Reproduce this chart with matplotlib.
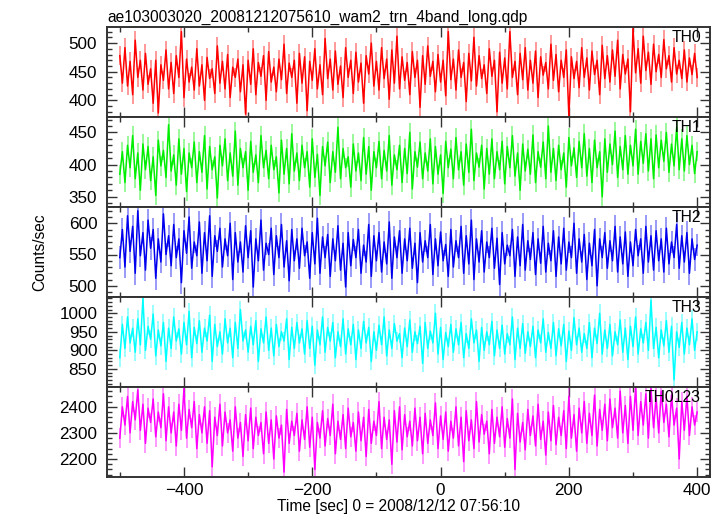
import numpy as np
import matplotlib
matplotlib.use("Agg")
import matplotlib.pyplot as plt
from matplotlib.ticker import MultipleLocator

plt.rcParams['font.family'] = ['Liberation Sans', 'DejaVu Sans']

# ---- data (4 s bins starting at -500 s) ----
t_start = -500.0
bin_sec = 4.0

th0 = [478, 430, 492, 425, 468, 410, 505, 440, 470, 418,
       482, 428, 455, 395, 470, 378, 462, 435, 488, 420,
       466, 412, 478, 440, 520, 405, 472, 432, 458, 418,
       490, 425, 462, 400, 475, 438, 455, 412, 495, 430,
       468, 420, 480, 405, 458, 440, 472, 415, 462, 376,
       470, 428, 490, 410, 466, 442, 478, 400, 485, 432,
       458, 415, 472, 436, 498, 412, 465, 440, 470, 395,
       482, 430, 476, 382, 468, 435, 490, 420, 462, 410,
       508, 438, 472, 418, 486, 428, 460, 405, 492, 440,
       470, 412, 484, 432, 465, 395, 478, 446, 500, 425,
       468, 418, 492, 438, 472, 402, 488, 430, 512, 420,
       476, 435, 466, 410, 485, 440, 470, 388, 478, 428,
       495, 442, 468, 415, 480, 432, 470, 408, 520, 436,
       472, 418, 488, 440, 466, 398, 482, 434, 510, 425,
       478, 438, 462, 412, 490, 442, 470, 380, 484, 430,
       474, 420, 520, 440, 468, 410, 482, 436, 492, 418,
       470, 430, 486, 405, 476, 444, 466, 420, 498, 435,
       480, 415, 470, 440, 488, 372, 476, 438, 468, 422,
       492, 440, 474, 418, 486, 445, 470, 410, 496, 438,
       478, 432, 488, 442, 505, 420, 480, 446, 472, 380,
       525, 448, 490, 430, 512, 452, 484, 428, 498, 450,
       480, 440, 506, 455, 478, 432, 492, 446, 470, 438,
       488, 432, 474, 445, 482, 440]

th1 = [385, 420, 372, 430, 395, 445, 378, 418, 360, 432,
       392, 428, 375, 412, 352, 438, 398, 422, 380, 462,
       390, 415, 368, 440, 385, 425, 358, 418, 395, 435,
       372, 420, 388, 445, 362, 428, 392, 412, 348, 430,
       398, 440, 375, 418, 382, 452, 368, 425, 395, 420,
       360, 436, 388, 415, 372, 445, 395, 422, 378, 430,
       392, 412, 356, 438, 385, 425, 370, 448, 390, 418,
       375, 430, 395, 420, 365, 440, 380, 416, 352, 428,
       398, 435, 372, 420, 388, 458, 378, 425, 395, 412,
       365, 432, 390, 418, 375, 442, 385, 428, 360, 420,
       395, 436, 378, 422, 390, 445, 368, 415, 392, 430,
       372, 425, 386, 450, 362, 420, 396, 435, 378, 418,
       390, 440, 370, 428, 385, 415, 355, 436, 395, 424,
       378, 442, 392, 420, 368, 432, 388, 455, 375, 418,
       396, 430, 362, 425, 385, 440, 378, 420, 392, 436,
       370, 428, 395, 445, 382, 418, 360, 432, 390, 424,
       385, 446, 372, 420, 396, 435, 378, 460, 388, 425,
       375, 430, 392, 418, 365, 442, 398, 426, 380, 436,
       395, 448, 382, 425, 372, 438, 395, 420, 350, 440,
       388, 432, 400, 452, 380, 428, 392, 445, 385, 430,
       398, 455, 385, 436, 402, 448, 390, 440, 378, 446,
       395, 438, 405, 450, 388, 432, 398, 458, 392, 440,
       390, 445, 400, 430, 386, 420]

th2 = [545, 590, 530, 612, 555, 595, 520, 620, 548, 585,
       525, 605, 560, 590, 512, 575, 538, 615, 550, 580,
       532, 598, 545, 575, 505, 588, 552, 610, 528, 570,
       548, 602, 520, 585, 540, 612, 515, 580, 555, 592,
       530, 575, 548, 600, 510, 585, 538, 570, 522, 596,
       545, 588, 498, 575, 540, 605, 525, 568, 550, 592,
       518, 580, 545, 598, 530, 572, 508, 590, 540, 575,
       528, 592, 548, 570, 512, 585, 535, 608, 520, 578,
       545, 582, 515, 575, 540, 596, 525, 568, 498, 585,
       532, 574, 545, 590, 520, 565, 538, 598, 515, 580,
       540, 585, 522, 570, 535, 602, 512, 578, 545, 588,
       520, 575, 540, 592, 528, 568, 505, 585, 538, 572,
       545, 598, 518, 575, 532, 586, 540, 566, 515, 590,
       530, 572, 545, 595, 520, 580, 535, 605, 510, 575,
       538, 588, 522, 570, 545, 592, 528, 576, 502, 585,
       535, 565, 548, 590, 515, 578, 532, 598, 525, 572,
       542, 585, 518, 575, 536, 595, 522, 568, 540, 588,
       515, 578, 535, 592, 525, 570, 545, 600, 520, 575,
       538, 582, 510, 568, 532, 590, 500, 575, 545, 585,
       528, 572, 540, 595, 522, 578, 535, 586, 515, 570,
       532, 590, 548, 575, 520, 595, 538, 580, 525, 588,
       540, 575, 522, 592, 535, 570, 545, 598, 528, 580,
       538, 585, 520, 575, 542, 565]

th3 = [880, 970, 905, 990, 920, 960, 895, 985, 915, 1040,
       900, 965, 930, 998, 885, 955, 912, 975, 870, 960,
       905, 990, 925, 958, 890, 975, 915, 1005, 880, 962,
       918, 980, 895, 960, 925, 995, 870, 970, 910, 950,
       890, 985, 920, 960, 880, 975, 905, 1010, 925, 955,
       895, 965, 915, 980, 870, 958, 920, 990, 900, 960,
       885, 970, 910, 950, 925, 985, 875, 962, 905, 975,
       920, 958, 890, 980, 905, 965, 860, 955, 915, 990,
       895, 962, 925, 975, 880, 950, 910, 985, 890, 958,
       915, 970, 875, 955, 905, 978, 920, 962, 870, 950,
       900, 968, 915, 990, 885, 955, 905, 972, 925, 945,
       880, 960, 910, 982, 895, 950, 918, 965, 865, 975,
       905, 952, 920, 1000, 890, 962, 875, 948, 910, 970,
       895, 958, 915, 975, 880, 945, 905, 985, 920, 955,
       870, 962, 900, 950, 915, 978, 885, 955, 905, 968,
       890, 945, 915, 990, 875, 960, 905, 972, 892, 950,
       910, 965, 880, 955, 920, 985, 895, 948, 905, 975,
       885, 958, 912, 970, 870, 952, 900, 988, 915, 960,
       895, 945, 905, 975, 880, 960, 918, 1000, 890, 955,
       905, 970, 885, 950, 915, 982, 895, 960, 875, 965,
       910, 990, 890, 958, 920, 975, 900, 1035, 905, 962,
       880, 955, 912, 980, 895, 965, 820, 950, 908, 975,
       890, 960, 915, 985, 900, 950]

th0123 = [2280, 2400, 2330, 2440, 2300, 2420, 2350, 2465, 2310, 2410,
          2260, 2395, 2340, 2430, 2285, 2380, 2320, 2450, 2270, 2400,
          2300, 2380, 2250, 2410, 2310, 2470, 2280, 2390, 2320, 2420,
          2240, 2370, 2300, 2400, 2260, 2385, 2170, 2360, 2290, 2410,
          2250, 2380, 2300, 2350, 2230, 2400, 2280, 2340, 2210, 2370,
          2270, 2395, 2240, 2360, 2290, 2340, 2220, 2380, 2260, 2350,
          2200, 2365, 2280, 2330, 2150, 2390, 2260, 2345, 2290, 2375,
          2230, 2350, 2275, 2400, 2245, 2360, 2160, 2340, 2280, 2385,
          2250, 2355, 2290, 2410, 2220, 2345, 2275, 2370, 2240, 2395,
          2285, 2340, 2230, 2380, 2270, 2360, 2210, 2390, 2260, 2345,
          2290, 2420, 2240, 2360, 2275, 2350, 2180, 2385, 2265, 2400,
          2235, 2370, 2285, 2345, 2250, 2395, 2270, 2360, 2220, 2375,
          2260, 2350, 2290, 2415, 2240, 2365, 2275, 2380, 2230, 2345,
          2280, 2400, 2250, 2360, 2190, 2385, 2270, 2350, 2240, 2420,
          2265, 2370, 2295, 2345, 2220, 2390, 2260, 2360, 2285, 2400,
          2245, 2355, 2280, 2430, 2160, 2375, 2265, 2340, 2235, 2390,
          2290, 2365, 2250, 2410, 2275, 2345, 2215, 2380, 2270, 2405,
          2255, 2360, 2290, 2385, 2240, 2440, 2280, 2370, 2230, 2395,
          2300, 2420, 2260, 2375, 2290, 2445, 2250, 2390, 2310, 2410,
          2270, 2430, 2320, 2395, 2280, 2460, 2300, 2405, 2260, 2440,
          2310, 2475, 2290, 2420, 2330, 2450, 2280, 2470, 2320, 2435,
          2300, 2460, 2340, 2410, 2285, 2445, 2330, 2395, 2200, 2420,
          2310, 2440, 2290, 2400, 2330, 2380]

panel_names = ["TH0", "TH1", "TH2", "TH3", "TH0123"]
panel_series = [th0, th1, th2, th3, th0123]
panel_errors = [16, 15, 18, 24, 38]
panel_colors = ["#ff0000", "#00ee00", "#0000ee", "#00ffff", "#ff00ff"]
panel_ylims = [(371, 528), (334, 474), (482, 626), (801, 1044), (2131, 2476)]
panel_major = [50, 50, 50, 50, 100]
panel_minor = [10, 10, 10, 10, 20]
x_ticks = [-400, -200, 0, 200, 400]

title_text = "ae103003020_20081212075610_wam2_trn_4band_long.qdp"
xlabel_text = "Time [sec] 0 = 2008/12/12 07:56:10"
ylabel_text = "Counts/sec"

fig = plt.figure(figsize=(7.23, 5.16), dpi=100)
left, width = 107 / 723, 603 / 723
top_px, h_px = 27, 90
axes = []
for i in range(5):
    bottom = 1 - (top_px + (i + 1) * h_px) / 516
    ax = fig.add_axes([left, bottom, width, h_px / 516])
    axes.append(ax)

edge = "#333333"
for i, ax in enumerate(axes):
    y = np.asarray(panel_series[i], dtype=float)
    t = t_start + bin_sec * np.arange(len(y))
    col = panel_colors[i]
    ax.errorbar(t, y, yerr=panel_errors[i], fmt='none', ecolor=col,
                elinewidth=1.4, alpha=0.4, capsize=0)
    ax.plot(t, y, color=col, lw=1.1)
    ax.set_xlim(-520, 420)
    ax.set_ylim(*panel_ylims[i])
    ax.xaxis.set_major_locator(MultipleLocator(200))
    ax.xaxis.set_minor_locator(MultipleLocator(100))
    ax.yaxis.set_major_locator(MultipleLocator(panel_major[i]))
    ax.yaxis.set_minor_locator(MultipleLocator(panel_minor[i]))
    ax.tick_params(which='both', direction='in', top=True, right=True,
                   color=edge, labelsize=12.3, width=1.0)
    ax.tick_params(which='major', length=7, pad=7)
    ax.tick_params(which='minor', length=3.5)
    for s in ax.spines.values():
        s.set_linewidth(1.4)
        s.set_color(edge)
    if i < 4:
        ax.tick_params(labelbottom=False)
    else:
        ax.set_xticks(x_ticks)
        ax.set_xticklabels([f"{v:d}".replace("-", "\u2212") for v in x_ticks])
        ax.tick_params(axis='x', which='major', pad=4)
    ax.text(0.985, 0.965, panel_names[i], transform=ax.transAxes, ha='right',
            va='top', fontsize=11.3, color='black')

axes[0].set_title(title_text, loc='left', fontsize=11.2, pad=4)
fig.text(398 / 723, 1 - 507 / 516, xlabel_text, ha='center', va='center',
         fontsize=11.2)
fig.text(40 / 723, 1 - 252 / 516, ylabel_text, rotation=90, ha='center',
         va='center', fontsize=11.2)

fig.savefig("out.png", dpi=100)
